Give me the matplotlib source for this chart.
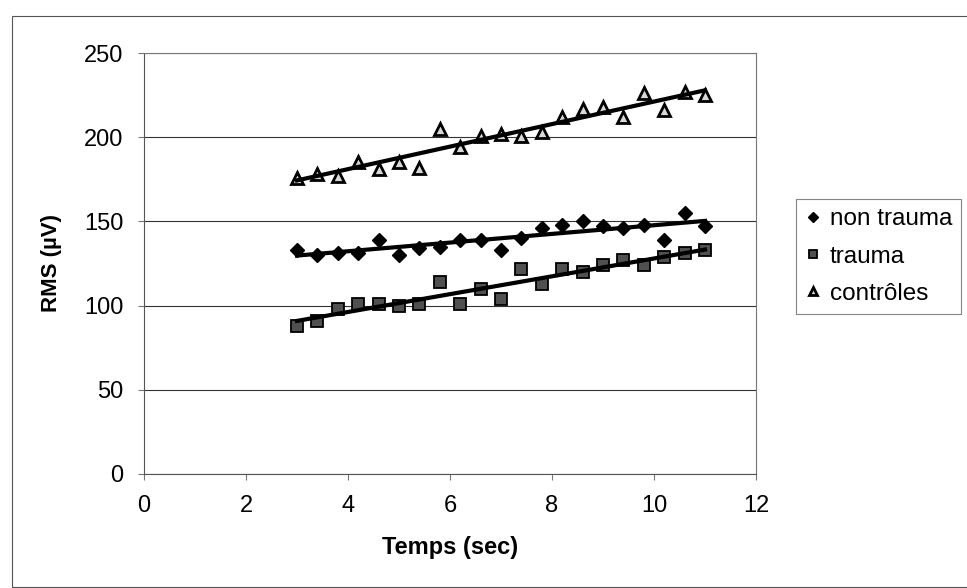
import numpy as np
import matplotlib
matplotlib.use("Agg")
import matplotlib.pyplot as plt
from matplotlib.patches import Rectangle

plt.rcParams["font.family"] = ["Liberation Sans", "DejaVu Sans"]

temps = [3.0, 3.4, 3.8, 4.2, 4.6, 5.0, 5.4, 5.8, 6.2, 6.6, 7.0,
         7.4, 7.8, 8.2, 8.6, 9.0, 9.4, 9.8, 10.2, 10.6, 11.0]
non_trauma = [133, 130, 131, 131, 139, 130, 134, 135, 139, 139, 133,
              140, 146, 148, 150, 147, 146, 148, 139, 155, 147]
trauma = [88, 91, 98, 101, 101, 100, 101, 114, 101, 110, 104,
          122, 113, 122, 120, 124, 127, 124, 129, 131, 133]
controles = [176, 178, 177, 185, 181, 185, 182, 205, 194, 201, 202,
             201, 203, 212, 217, 218, 212, 226, 216, 227, 225]

x_ticks = [0, 2, 4, 6, 8, 10, 12]
y_ticks = [0, 50, 100, 150, 200, 250]

fig = plt.figure(figsize=(9.67, 5.88), dpi=100)
ax = fig.add_axes([144 / 967, 1 - 474 / 588, (756 - 144) / 967, (474 - 53) / 588])

x = np.array(temps)

def trend(y):
    k, b = np.polyfit(x, np.array(y), 1)
    return k * x + b

ax.plot(x, non_trauma, "D", ms=7.5, color="black", mec="black", zorder=3, label="non trauma")
ax.plot(x, trauma, "s", ms=9, color="#505050", mec="black", mew=1.3, zorder=3, label="trauma")
ax.plot(x, controles, "^", ms=9, color="#d8d8d8", mec="black", mew=2.0, zorder=3, label="contrôles")

for ys in (non_trauma, trauma, controles):
    ax.plot(x, trend(ys), "-", lw=3, color="black", zorder=4)

ax.set_xlim(0, 12)
ax.set_ylim(0, 250)
ax.set_xticks(x_ticks)
ax.set_yticks(y_ticks)
ax.yaxis.grid(True, color="#333333", lw=0.8)
ax.set_axisbelow(True)
for s in ("top", "right"):
    ax.spines[s].set_color("#777777")
for s in ("left", "bottom"):
    ax.spines[s].set_color("#555555")
for s in ax.spines.values():
    s.set_linewidth(0.8)
ax.tick_params(axis="both", direction="out", length=4, width=0.8, color="#777777",
               labelsize=17)
ax.tick_params(axis="y", pad=11)
ax.tick_params(axis="x", pad=11)

ax.set_xlabel("Temps (sec)", fontsize=17, fontweight="bold", labelpad=14)
ax.set_ylabel("RMS (µV)", fontsize=16, fontweight="bold", labelpad=16)

leg = fig.legend(loc="upper left", bbox_to_anchor=(796 / 967, 1 - 199 / 588),
                 frameon=True, fancybox=False, fontsize=17.5, handlelength=0.6,
                 handletextpad=0.4, borderpad=0.38, labelspacing=0.63, markerscale=0.7,
                 borderaxespad=0)
leg.get_frame().set_edgecolor("#666666")
leg.get_frame().set_linewidth(0.8)

fig.patches.append(Rectangle((12 / 967, 1 - 587 / 588), (990 - 12) / 967, (587 - 16) / 588,
                             transform=fig.transFigure, fill=False, edgecolor="#555555",
                             lw=0.8, zorder=0))

fig.savefig("out.png", dpi=100)
